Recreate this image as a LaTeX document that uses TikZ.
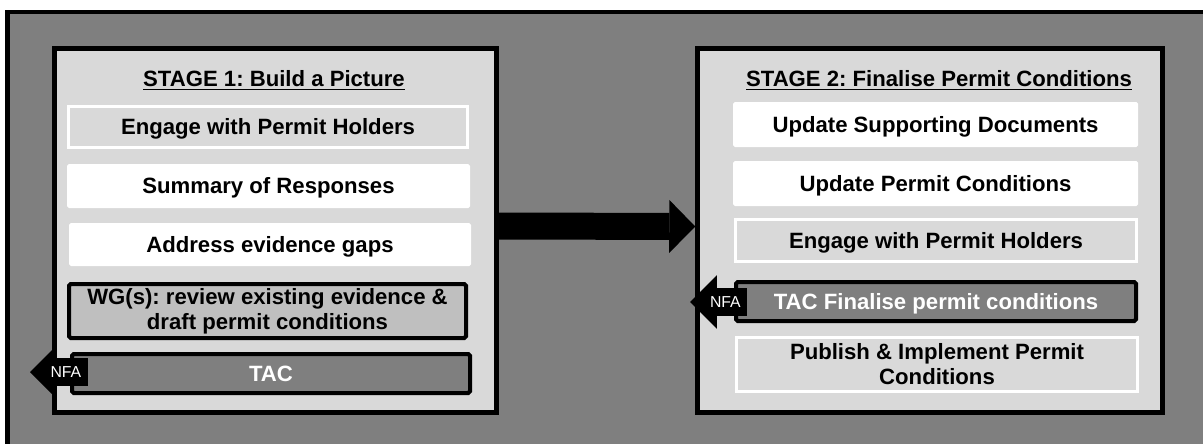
\documentclass[tikz,border=0pt]{standalone}
\usepackage{fontspec}
\setmainfont{Liberation Sans}
\usetikzlibrary{arrows.meta, shapes.arrows}
\definecolor{Gpanel}{RGB}{217,217,217}
\definecolor{Gmid}{RGB}{191,191,191}
\definecolor{Gdark}{RGB}{127,127,127}
\frenchspacing

\begin{document}
\begin{tikzpicture}[x=0.02cm, y=-0.02cm,
    sz/.style 2 args={minimum width=#1*0.02cm, minimum height=#2*0.02cm},
    stage/.style={rectangle, draw=black, line width=0.09cm,
                fill=Gpanel, inner sep=0pt},
    txt/.style={font=\fontsize{12.6}{14.2}\selectfont\bfseries,
                align=center, inner sep=2pt},
    one/.style={txt, text height=9pt, text depth=0pt},
    wbox/.style={one, rectangle, fill=white, rounded corners=1pt},
    lbox/.style={rectangle, fill=Gpanel, draw=white, line width=0.06cm},
    gbox/.style={rectangle, fill=Gmid, draw=black, line width=0.08cm,
                rounded corners=1pt},
    dbox/.style={one, rectangle, fill=Gdark, draw=black, line width=0.08cm,
                text=white, rounded corners=1pt},
    ttl/.style={txt, anchor=base},
    nfa/.style={single arrow, shape border rotate=180, fill=black,
                text=white, font=\fontsize{9}{10}\selectfont,
                inner xsep=1pt, inner ysep=4.4pt,
                text height=6.5pt, text depth=0pt,
                single arrow tip angle=90, anchor=tip, outer sep=0pt},
    bigarr/.style={line width=0.54cm,
                -{Triangle[length=0.52cm, width=1.06cm, line width=0pt]}}]

  \clip (0,0) rectangle (1203,443);
  \fill[white] (0,0) rectangle (1203,443);

  %--- Marco exterior ---
  \draw[line width=0.09cm, fill=Gdark] (7.5,12) rectangle (1260,500);

  %--- Etapas ---
  \node[stage, sz={442}{364}] (st1) at (275.5,230.5) {};
  \node[stage, sz={465}{364}] (st2) at (930,230.5)   {};
  \node[ttl] (t1) at (274,86.5) {\underline{STAGE 1: Build a Picture}};
  \node[ttl] (t2) at (939,86.5) {\underline{STAGE 2: Finalise Permit Conditions}};

  %--- Etapa 1 ---
  \node[lbox, one, sz={399}{41}] (eng1) at (268,127)   {Engage with Permit Holders};
  \node[wbox, sz={403}{44}]      (sum)  at (268.5,186) {Summary of Responses};
  \node[wbox, sz={402}{43}]      (gaps) at (270,244.5) {Address evidence gaps};
  \node[gbox, txt, sz={397}{54}] (wg)   at (267.5,311)
    {WG(s): review existing evidence \&\\draft permit conditions};
  \node[dbox, sz={398}{39}]      (tac1) at (271,373.5) {TAC};

  %--- Etapa 2 ---
  \node[wbox, sz={405}{45}]      (docs) at (935.5,124.5) {Update Supporting Documents};
  \node[wbox, sz={405}{45}]      (cond) at (935.5,183.5) {Update Permit Conditions};
  \node[lbox, one, sz={401}{42}] (eng2) at (936,240.5)   {Engage with Permit Holders};
  \node[dbox, sz={400}{39}]      (tac2) at (936,301.5)   {TAC Finalise permit conditions};
  \node[lbox, txt, sz={401}{54}] (pub)  at (937,364.5)
    {Publish \& Implement Permit\\Conditions};

  %--- Flecha entre etapas ---
  \draw[bigarr] ([yshift=0.09cm]st1.east) -- ([yshift=0.08cm]st2.west);

  %--- NFA ---
  \node[nfa, single arrow head extend=0.16cm, minimum height=1.16cm] (nfa1) at (30,372)  {NFA};
  \node[nfa, single arrow head extend=0.26cm, minimum height=1.14cm] (nfa2) at (690,302) {NFA};
\end{tikzpicture}
\end{document}
